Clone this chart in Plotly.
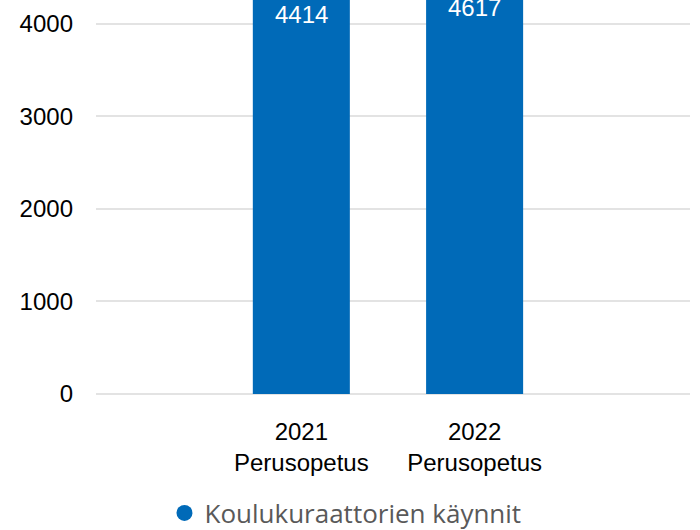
import plotly.graph_objects as go

# Data
categories = ["2021<br>Perusopetus", "2022<br>Perusopetus"]
values = [4414, 4617]
series_name = "Koulukuraattorien käynnit"
y_ticks = [0, 1000, 2000, 3000, 4000]

Y_MAX = 4259
bar_color = "#006AB8"
label_offsets_px = [-29, -41]  # label placement below bar top (style only)

fig = go.Figure()
fig.add_trace(go.Bar(
    x=categories, y=values, marker=dict(color=bar_color, line=dict(width=0)),
    showlegend=False, name=series_name, hoverinfo="x+y",
))
# legend entry with circle marker
fig.add_trace(go.Scatter(
    x=[None], y=[None], mode="markers", name=series_name,
    marker=dict(symbol="circle", size=18, color=bar_color),
))

for cat, v, off in zip(categories, values, label_offsets_px):
    fig.add_annotation(x=cat, y=v / Y_MAX, xref="x", yref="paper", text=str(v),
                       showarrow=False, yanchor="middle", yshift=off,
                       font=dict(family="Liberation Sans, Arial", size=24, color="white"))

fig.update_layout(
    width=700, height=530,
    margin=dict(l=96, r=10, t=0, b=136, autoexpand=False),
    paper_bgcolor="white", plot_bgcolor="white",
    bargap=0.44,
    font=dict(family="Liberation Sans, Arial", size=24, color="#000000"),
    legend=dict(orientation="h", x=0.420, xanchor="center", y=-0.302, yanchor="middle",
                font=dict(family="Open Sans", size=26, color="#595959"),
                bgcolor="rgba(0,0,0,0)"),
    xaxis=dict(range=[-1.185, 2.243], showgrid=False, zeroline=False, showline=False,
               automargin=False,
               ticks="outside", ticklen=16, tickcolor="rgba(0,0,0,0)",
               tickfont=dict(size=24, color="#000000")),
    yaxis=dict(range=[0, Y_MAX], tickvals=y_ticks, showgrid=True, gridcolor="#E3E3E3",
               gridwidth=2, zeroline=True, zerolinecolor="#E3E3E3", zerolinewidth=2,
               showline=False, ticks="", ticklabelstandoff=22, automargin=False,
               tickfont=dict(size=24, color="#000000")),
)

fig.write_html("out.html", config={"displayModeBar": False},
               post_script="document.body.style.margin='0';")
